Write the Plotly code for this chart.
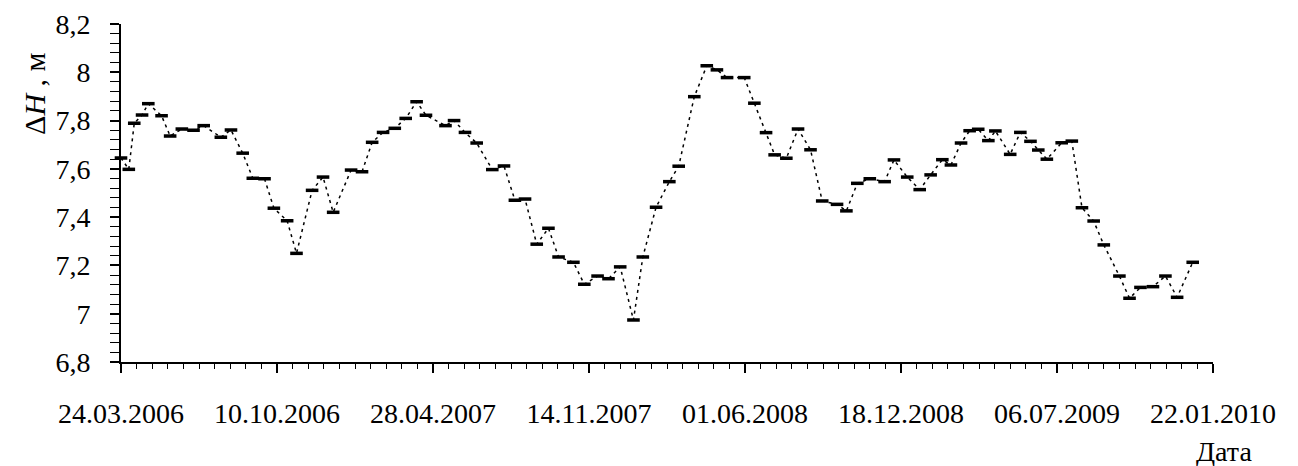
import pandas as pd
import plotly.graph_objects as go

day_offsets = [0, 10, 17, 27, 35, 52, 63, 78, 93, 106, 128, 141, 156, 169, 184, 196, 213, 225,
               245, 259, 272, 295, 309, 322, 336, 351, 365, 379, 391, 416, 427, 441, 456, 476,
               491, 505, 518, 533, 548, 561, 580, 594, 611, 625, 640, 657, 669, 686, 703, 715,
               735, 751, 764, 777, 799, 812, 827, 838, 853, 868, 884, 899, 918, 930, 944, 960,
               979, 991, 1008, 1024, 1038, 1053, 1064, 1077, 1088, 1099, 1112, 1121, 1140, 1153,
               1166, 1176, 1187, 1206, 1219, 1232, 1247, 1260, 1280, 1293, 1307, 1323, 1339,
               1354, 1374]

delta_h = [7.645, 7.598, 7.789, 7.823, 7.870, 7.820, 7.736, 7.765, 7.760, 7.779, 7.731, 7.761,
           7.665, 7.561, 7.559, 7.437, 7.385, 7.250, 7.511, 7.566, 7.420, 7.595, 7.588, 7.710,
           7.751, 7.768, 7.809, 7.878, 7.822, 7.779, 7.800, 7.751, 7.707, 7.597, 7.612, 7.470,
           7.475, 7.288, 7.354, 7.235, 7.213, 7.122, 7.156, 7.145, 7.194, 6.974, 7.235, 7.441,
           7.547, 7.611, 7.899, 8.027, 8.010, 7.978, 7.978, 7.872, 7.750, 7.658, 7.644, 7.765,
           7.679, 7.467, 7.453, 7.426, 7.540, 7.559, 7.547, 7.637, 7.566, 7.514, 7.575, 7.638,
           7.616, 7.707, 7.758, 7.764, 7.717, 7.757, 7.660, 7.751, 7.714, 7.678, 7.640, 7.708,
           7.715, 7.439, 7.384, 7.285, 7.156, 7.064, 7.109, 7.112, 7.156, 7.068, 7.213]

start_date = "2006-03-24"
x_tick_dates = ["2006-03-24", "2006-10-10", "2007-04-28", "2007-11-14",
                "2008-06-01", "2008-12-18", "2009-07-06", "2010-01-22"]
x_tick_labels = ["24.03.2006", "10.10.2006", "28.04.2007", "14.11.2007",
                 "01.06.2008", "18.12.2008", "06.07.2009", "22.01.2010"]
y_tick_vals = [6.8, 7.0, 7.2, 7.4, 7.6, 7.8, 8.0, 8.2]
y_tick_labels = ["6,8", "7", "7,2", "7,4", "7,6", "7,8", "8", "8,2"]

dates = pd.Timestamp(start_date) + pd.to_timedelta(day_offsets, unit="D")

FONT = "Liberation Serif"

fig = go.Figure()
fig.add_trace(go.Scatter(
    x=dates, y=delta_h, mode="lines+markers",
    line=dict(color="black", width=1.5, dash="3px,4px"),
    marker=dict(symbol="line-ew", size=9, color="black",
                line=dict(color="black", width=3.5)),
    cliponaxis=False, showlegend=False,
))

fig.update_layout(
    width=1290, height=458,
    margin=dict(l=113, r=85, t=16, b=104, autoexpand=False),
    plot_bgcolor="white", paper_bgcolor="white",
    separators=", ",
    font=dict(family=FONT, size=28, color="black"),
    xaxis=dict(
        type="date", automargin=False,
        range=[x_tick_dates[0], x_tick_dates[-1]],
        tickmode="array", tickvals=x_tick_dates, ticktext=x_tick_labels,
        ticks="outside", ticklen=9, tickwidth=1.5, tickcolor="black",
        showline=True, linecolor="black", linewidth=2,
        showgrid=False, zeroline=False,
        ticklabelstandoff=16,
        minor=dict(dtick=20 * 86400000, tick0=x_tick_dates[0], ticks="outside",
                   ticklen=5, tickwidth=1, tickcolor="black", showgrid=False),
        tickfont=dict(family=FONT, size=28),
    ),
    yaxis=dict(
        range=[6.8, 8.2], automargin=False,
        tickmode="array", tickvals=y_tick_vals, ticktext=y_tick_labels,
        ticks="outside", ticklen=9, tickwidth=1.5, tickcolor="black",
        showline=True, linecolor="black", linewidth=2,
        showgrid=False, zeroline=False,
        ticklabelstandoff=14,
        minor=dict(dtick=0.04, tick0=6.8, ticks="outside", ticklen=9,
                   tickwidth=1, tickcolor="black", showgrid=False),
        tickfont=dict(family=FONT, size=28),
    ),
)

fig.add_annotation(
    text="Δ<i>H</i> , м", xref="paper", yref="paper",
    x=-0.0788, y=0.793, xanchor="center", yanchor="middle",
    textangle=-90, showarrow=False, font=dict(family=FONT, size=30),
)
fig.add_annotation(
    text="Дата", xref="paper", yref="paper",
    x=1.01, y=-0.266, xanchor="center", yanchor="middle",
    showarrow=False, font=dict(family=FONT, size=28),
)

fig.write_html("out.html")
